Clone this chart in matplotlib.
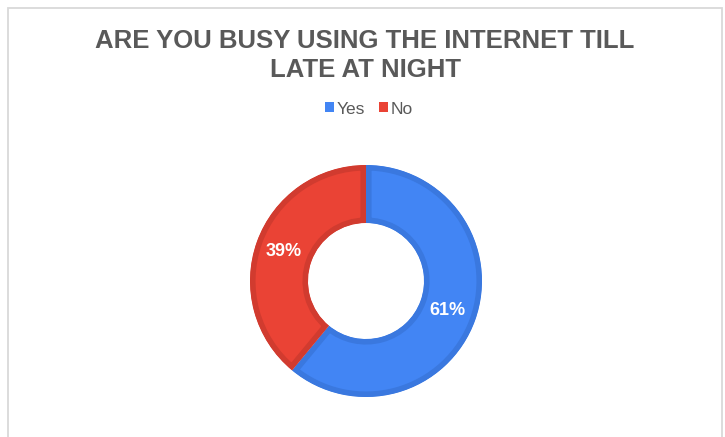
import matplotlib
matplotlib.use("Agg")
import matplotlib.pyplot as plt
from matplotlib.patches import Rectangle

title_lines = ["ARE YOU BUSY USING THE INTERNET TILL", "LATE AT NIGHT"]
categories = ["Yes", "No"]
shares = [61, 39]
fill_colors = ["#4285f4", "#ea4335"]
edge_colors = ["#3a78df", "#d13b2f"]

plt.rcParams["font.family"] = ["Liberation Sans", "DejaVu Sans"]

W, H = 725, 437
fig = plt.figure(figsize=(W / 100, H / 100), dpi=100)
fig.patch.set_facecolor("white")

# chart frame
fig.patches.append(Rectangle((8 / W, -0.1), (722 - 8) / W, 1.1 - 8 / H,
                             transform=fig.transFigure, fill=False,
                             edgecolor="#d9d9d9", linewidth=1.3))

# title, one baseline per line
for line, base in zip(title_lines, [48, 77]):
    fig.text(365 / W, 1 - base / H, line, ha="center", va="baseline",
             fontsize=18.5, fontweight="bold", color="#595959")

# donut
cx, cy, r = 366, 281, 116
ax = fig.add_axes([(cx - r) / W, (H - cy - r) / H, 2 * r / W, 2 * r / H])
wedges, texts, autotexts = ax.pie(
    shares, colors=fill_colors, startangle=90, counterclock=False,
    radius=1.0, wedgeprops=dict(width=0.5),
    autopct=lambda p: f"{p:.0f}%", pctdistance=0.75,
    textprops=dict(color="white", fontsize=13, fontweight="bold"))
for w, ec in zip(wedges, edge_colors):
    w.set_edgecolor(ec)
    w.set_linewidth(8)
    w.set_clip_on(True)
    w.set_clip_path(w)
ax.set_xlim(-1, 1)
ax.set_ylim(-1, 1)
ax.axis("off")

leg = fig.legend(wedges, categories, loc="center", bbox_to_anchor=(369 / W, 1 - 109 / H),
                 ncol=2, frameon=False, fontsize=12.5, handlelength=0.5, handleheight=0.5,
                 handletextpad=0.15, columnspacing=0.8, labelcolor="#595959")
for h, c in zip(leg.legend_handles, fill_colors):
    h.set_edgecolor(c)
    h.set_linewidth(0)
    h.set_clip_path(None)

fig.savefig("out.png", dpi=100, facecolor="white")
